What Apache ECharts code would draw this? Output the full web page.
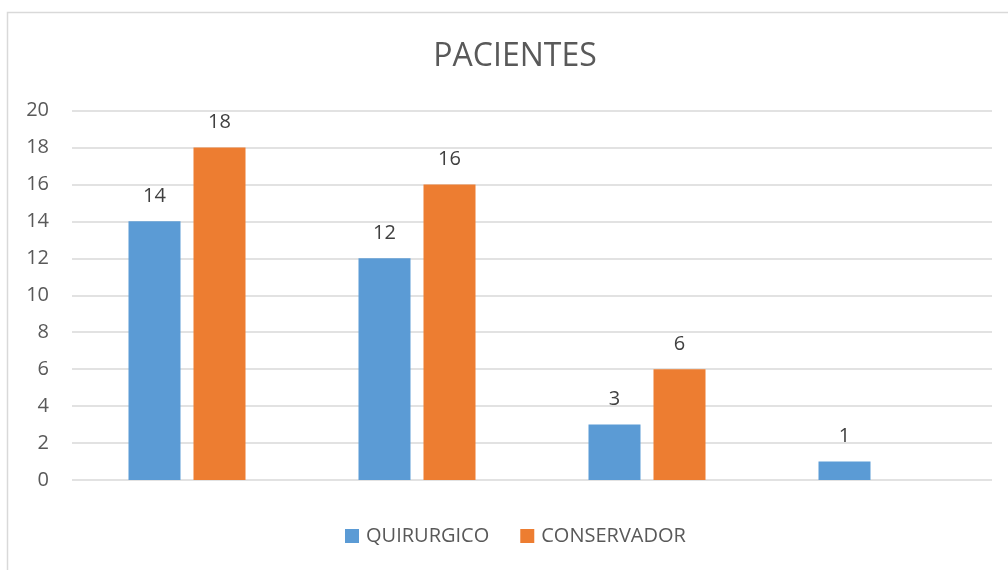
<!DOCTYPE html>
<html>
<head>
<meta charset="utf-8">
<script src="https://cdn.jsdelivr.net/npm/echarts@6/dist/echarts.min.js"></script>
<style>
  html, body { margin: 0; padding: 0; background: #fff; }
  #chart { width: 1008px; height: 570px; }
</style>
</head>
<body>
<div id="chart"></div>
<script>
var categories = ["A", "B", "C", "D"];
var quirurgico = [14, 12, 3, 1];
var conservador = [18, 16, 6, null];
var yTicks = { min: 0, max: 20, step: 2 };

var chart = echarts.init(document.getElementById("chart"));
var labelStyle = {
  show: true,
  position: "top",
  distance: 15,
  color: "#404040",
  fontSize: 20,
  fontFamily: "Open Sans",
};

chart.setOption({
  animation: false,
  textStyle: { fontFamily: "Open Sans" },
  graphic: [
    {
      type: "rect",
      shape: { x: 7.5, y: 12.5, width: 1100, height: 700 },
      style: { fill: null, stroke: "#d9d9d9", lineWidth: 1.5 },
      silent: true,
    },
    {
      type: "text",
      x: 515,
      y: 57,
      style: {
        text: "PACIENTES",
        fill: "#595959",
        fontSize: 32,
        fontFamily: "Open Sans",
        align: "center",
        verticalAlign: "middle",
      },
    },
  ],
  legend: {
    data: ["QUIRURGICO", "CONSERVADOR"],
    left: 340,
    top: 521,
    itemWidth: 14,
    itemHeight: 14,
    itemGap: 31,
    icon: "rect",
    textStyle: { color: "#595959", fontSize: 20, fontFamily: "Open Sans", padding: [0, 0, 0, 2] },
  },
  grid: { left: 72, right: 16, top: 110.5, bottom: 90, containLabel: false },
  xAxis: {
    type: "category",
    data: categories,
    axisLine: { show: false },
    axisTick: { show: false },
    axisLabel: { show: false },
  },
  yAxis: {
    type: "value",
    min: yTicks.min,
    max: yTicks.max,
    interval: yTicks.step,
    axisLine: { show: false },
    axisTick: { show: false },
    axisLabel: { color: "#595959", fontSize: 20, margin: 23, fontFamily: "Open Sans" },
    splitLine: { lineStyle: { color: "#d9d9d9", width: 1.5 } },
  },
  series: [
    {
      name: "QUIRURGICO",
      type: "bar",
      data: quirurgico,
      barWidth: 52,
      barGap: "25%",
      itemStyle: { color: "#5B9BD5" },
      label: labelStyle,
    },
    {
      name: "CONSERVADOR",
      type: "bar",
      data: conservador,
      barWidth: 52,
      barGap: "25%",
      itemStyle: { color: "#ED7D31" },
      label: labelStyle,
    },
  ],
});
</script>
</body>
</html>
